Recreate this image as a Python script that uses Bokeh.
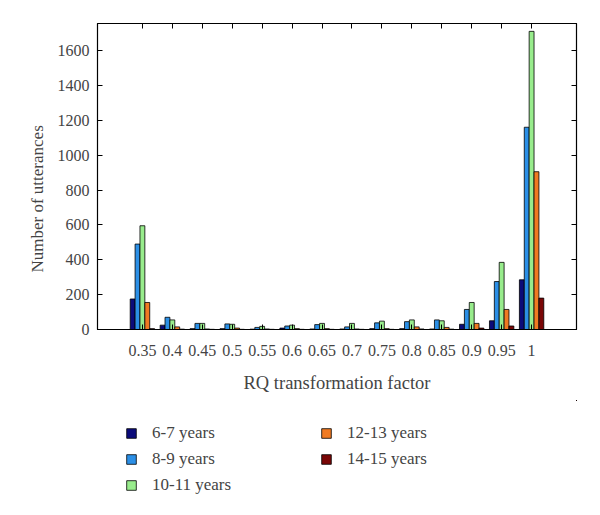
from bokeh.plotting import figure
from bokeh.layouts import column
from bokeh.models import (ColumnDataSource, FactorRange, Range1d, LinearAxis, CategoricalAxis,
                          Legend, LegendItem, FixedTicker, Title)
from bokeh.transform import dodge
from bokeh.embed import file_html
from bokeh.resources import INLINE

categories = ["0.35", "0.4", "0.45", "0.5", "0.55", "0.6", "0.65", "0.7", "0.75", "0.8", "0.85", "0.9", "0.95", "1"]
age_6_7 = [175, 25, 5, 5, 2, 8, 3, 3, 5, 5, 3, 30, 50, 285]
age_8_9 = [490, 70, 35, 32, 12, 20, 28, 15, 38, 45, 55, 115, 275, 1160]
age_10_11 = [595, 55, 35, 30, 18, 25, 35, 35, 48, 55, 50, 155, 385, 1710]
age_12_13 = [155, 15, 3, 8, 3, 5, 5, 3, 5, 15, 12, 35, 115, 905]
age_14_15 = [5, 2, 1, 1, 1, 1, 1, 1, 1, 3, 2, 8, 20, 180]
series_names = ["6-7 years", "8-9 years", "10-11 years", "12-13 years", "14-15 years"]
y_ticks = [0, 200, 400, 600, 800, 1000, 1200, 1400, 1600]

colors = ["#0b0b7a", "#2b8fe6", "#98ec8c", "#f07a22", "#7a0606"]
series = [age_6_7, age_8_9, age_10_11, age_12_13, age_14_15]
keys = ["s0", "s1", "s2", "s3", "s4"]

data = {"cat": categories}
for k, s in zip(keys, series):
    data[k] = s
source = ColumnDataSource(data)

FONT = "Liberation Serif"

x_range = FactorRange(*categories, range_padding=1, range_padding_units="absolute")
p = figure(width=600, height=400, x_range=x_range, y_range=Range1d(0, 1755),
           output_backend="svg", toolbar_location=None,
           min_border_left=97, min_border_right=24, min_border_top=23, min_border_bottom=71)
p.frame_width = 479
p.frame_height = 306

p.grid.visible = False
p.outline_line_color = "black"
p.outline_line_width = 1.2

bw = 0.163
offsets = [-2 * bw, -bw, 0, bw, 2 * bw]
renderers = []
for k, c, off in zip(keys, colors, offsets):
    r = p.vbar(x=dodge("cat", off, range=p.x_range), top=k, width=bw, source=source,
               fill_color=c, line_color="black", line_width=0.8)
    renderers.append(r)

# axes styling
xa = p.xaxis[0]
xa.axis_label = "RQ transformation factor"
xa.axis_label_text_font = FONT
xa.axis_label_text_font_style = "normal"
xa.axis_label_text_font_size = "18.5px"
xa.axis_label_standoff = 14
xa.major_label_text_font = FONT
xa.major_label_text_font_size = "16px"
xa.major_label_standoff = 15
xa.major_tick_in = 5
xa.major_tick_out = 0
xa.axis_line_color = "black"

ya = p.yaxis[0]
ya.major_label_text_font = FONT
ya.major_label_text_font_size = "16px"
ya.major_label_standoff = 8
ya.ticker = FixedTicker(ticks=y_ticks)
ya.major_tick_in = 5
ya.major_tick_out = 0
ya.minor_tick_in = 0
ya.minor_tick_out = 0

ytitle = Title(text="Number of utterances", align="left", offset=57,
               text_font=FONT, text_font_style="normal", text_font_size="17px",
               standoff=16)
p.add_layout(ytitle, "left")

top_axis = CategoricalAxis(major_label_text_font_size="0px", major_tick_in=5, major_tick_out=0,
                           major_label_standoff=0)
p.add_layout(top_axis, "above")
right_axis = LinearAxis(ticker=FixedTicker(ticks=y_ticks), major_label_text_font_size="0px",
                        major_tick_in=5, major_tick_out=0, minor_tick_in=0, minor_tick_out=0,
                        major_label_standoff=0)
p.add_layout(right_axis, "right")

# legend area below the chart (its frame is aligned with the chart's frame by the column layout)
lg_fig = figure(width=600, height=115, x_range=Range1d(-3000, -2000), y_range=Range1d(-3000, -2000),
                output_backend="svg", toolbar_location=None,
                min_border_left=97, min_border_right=24, min_border_top=0, min_border_bottom=0)
lg_fig.frame_width = 479
lg_fig.axis.visible = False
lg_fig.grid.visible = False
lg_fig.outline_line_color = None

# legend swatches (the bars themselves lie far outside this strip's visible ranges)
proxies = []
for k, c in zip(keys, colors):
    proxies.append(lg_fig.vbar(x=k, top=k, width=1, source=source,
                               fill_color=c, line_color="black", line_width=0.8))


def make_legend(idx, x, y):
    items = [LegendItem(label=series_names[i], renderers=[proxies[i]]) for i in idx]
    return Legend(items=items, location=(x, y), orientation="vertical",
                  glyph_width=12, glyph_height=12, label_standoff=15,
                  label_text_font=FONT, label_text_font_size="17px",
                  label_height=20, spacing=6, padding=0, margin=0,
                  border_line_color=None, background_fill_alpha=0)


lg_fig.add_layout(make_legend([0, 1, 2], 28, 20), "center")
lg_fig.add_layout(make_legend([3, 4], 223, 46), "center")

layout = column(p, lg_fig, spacing=0)
open("out.html", "w").write(file_html(layout, INLINE))
